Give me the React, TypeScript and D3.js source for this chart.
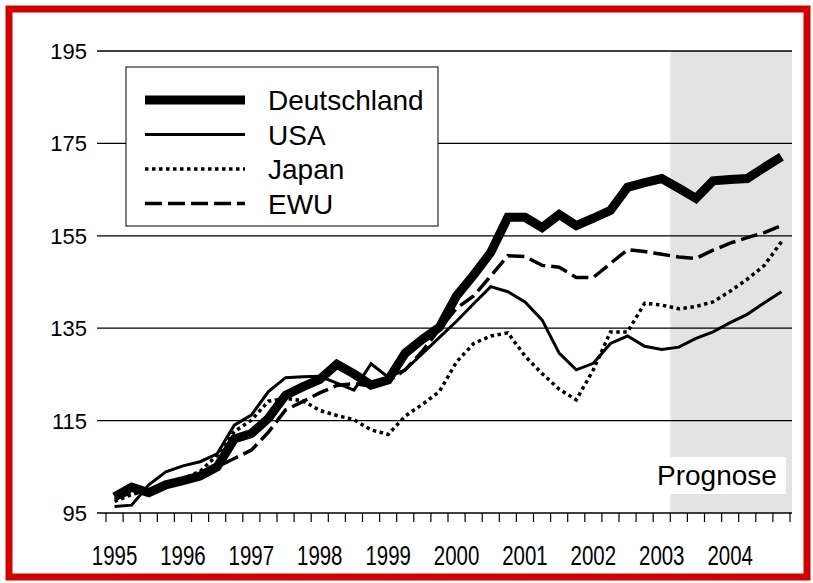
import * as d3 from 'd3';

// quarterly categories 1995Q1 .. 2004Q4
const years = [1995, 1996, 1997, 1998, 1999, 2000, 2001, 2002, 2003, 2004];
const quarters = years.flatMap(y => [1, 2, 3, 4].map(q => `${y}Q${q}`));
const yTicks = [95, 115, 135, 155, 175, 195];
const forecastStart = '2003Q2';
const forecastLabel = 'Prognose';

const deutschland = [98.5, 100.6, 99.4, 101.1, 102.0, 103.0, 105.0, 111.0, 112.2, 115.5,
    120.5, 122.3, 123.9, 127.2, 125.1, 122.7, 123.8, 129.6, 132.6, 135.2,
    142.0, 146.5, 151.4, 159.0, 159.0, 156.8, 159.6, 157.2, 158.8, 160.5,
    165.5, 166.5, 167.4, 165.3, 163.1, 166.9, 167.2, 167.4, 169.8, 172.1];
const usa = [96.4, 96.7, 101.1, 103.9, 105.2, 106.1, 107.8, 114.0, 116.2, 121.3,
    124.3, 124.5, 124.6, 123.1, 121.6, 127.3, 124.4, 126.0, 129.5, 133.0,
    136.5, 140.3, 144.0, 142.9, 140.7, 136.8, 129.6, 126.0, 127.4, 131.7,
    133.3, 131.1, 130.4, 130.9, 132.8, 134.2, 136.2, 138.0, 140.5, 142.9];
const japan = [97.5, 99.0, 100.0, 101.5, 102.5, 104.0, 107.5, 112.6, 115.1, 119.2,
    119.8, 119.3, 117.2, 116.1, 115.2, 113.0, 112.0, 116.0, 118.5, 121.3,
    127.7, 131.7, 133.3, 134.0, 129.0, 125.2, 121.8, 119.5, 126.0, 134.2,
    134.2, 140.4, 140.0, 139.2, 139.7, 140.7, 143.0, 145.6, 148.6, 153.7];
const ewu = [98.0, 99.5, 99.5, 101.0, 102.0, 103.0, 105.0, 106.8, 108.6, 112.5,
    117.3, 119.1, 121.0, 122.6, 123.0, 122.5, 123.5, 126.0, 130.0, 134.8,
    139.3, 142.0, 146.3, 150.7, 150.5, 148.6, 148.2, 146.0, 146.0, 149.0,
    152.0, 151.6, 151.0, 150.4, 150.1, 151.9, 153.4, 154.6, 155.7, 157.2];

const series = [
    { name: 'Deutschland', values: deutschland, width: 9, dash: 'none' },
    { name: 'USA', values: usa, width: 3, dash: 'none' },
    { name: 'Japan', values: japan, width: 3.5, dash: '3.5,3.5' },
    { name: 'EWU', values: ewu, width: 3.5, dash: '17,6' },
];

const W = 813, H = 583;
const font = "'Liberation Sans', Arial, sans-serif";

export default function App() {
    const x = d3.scaleBand<string>().domain(quarters).range([106, 790]).paddingInner(0).paddingOuter(0);
    const y = d3.scaleLinear().domain([95, 195]).range([513, 51]);
    const bw = x.bandwidth();
    const cx = (q: string) => x(q)! + bw / 2;

    const line = d3.line<number>()
        .x((_, i) => cx(quarters[i]))
        .y(d => y(d));

    const plotLeft = 97, plotRight = 792;
    const shadeX = x(forecastStart)!;

    return (
        <svg width={W} height={H} style={{ position: 'absolute', left: 0, top: 0, background: '#fff' }}>
            {/* red frame */}
            <rect x={9} y={9} width={798} height={568} fill="#fff" stroke="#d00000" strokeWidth={7} />

            {/* forecast shading */}
            <rect x={shadeX} y={y(195)} width={plotRight - shadeX} height={y(95) - y(195)} fill="#e3e3e3" />

            {/* gridlines */}
            {yTicks.map(t => (
                <g key={t}>
                    <line x1={plotLeft} x2={plotRight} y1={y(t)} y2={y(t)} stroke="#000" strokeWidth={1.3} />
                    <text x={87} y={y(t)} dy="0.36em" textAnchor="end" fontSize={22} fontFamily={font}>{t}</text>
                </g>
            ))}

            {/* x ticks at category boundaries */}
            {d3.range(quarters.length + 1).map(k => {
                const tx = 106 + k * bw;
                return <line key={k} x1={tx} x2={tx} y1={y(95)} y2={y(95) + 9} stroke="#000" strokeWidth={1.2} />;
            })}
            {years.map(yr => (
                <text key={yr} transform={`translate(${cx(`${yr}Q1`)},565) scale(0.93,1.25)`} textAnchor="middle"
                    fontSize={22} fontFamily={font}>{yr}</text>
            ))}

            {/* Prognose label */}
            <rect x={652} y={457} width={134} height={37} fill="#fff" />
            <text x={657} y={485} fontSize={28} fontFamily={font}>{forecastLabel}</text>

            {/* series */}
            {series.map(s => (
                <path key={s.name} d={line(s.values)!} fill="none" stroke="#000" strokeWidth={s.width}
                    strokeDasharray={s.dash} strokeLinejoin="miter" />
            ))}

            {/* legend */}
            <g>
                <rect x={126} y={67} width={312} height={159} fill="#fff" stroke="#000" strokeWidth={1} />
                {series.map((s, i) => {
                    const ly = 100 + i * 34.5;
                    return (
                        <g key={s.name}>
                            <line x1={145} x2={245} y1={ly} y2={ly} stroke="#000" strokeWidth={s.width} strokeDasharray={s.dash} />
                            <text x={268} y={ly} dy="0.36em" fontSize={28} fontFamily={font}>{s.name}</text>
                        </g>
                    );
                })}
            </g>
        </svg>
    );
}
